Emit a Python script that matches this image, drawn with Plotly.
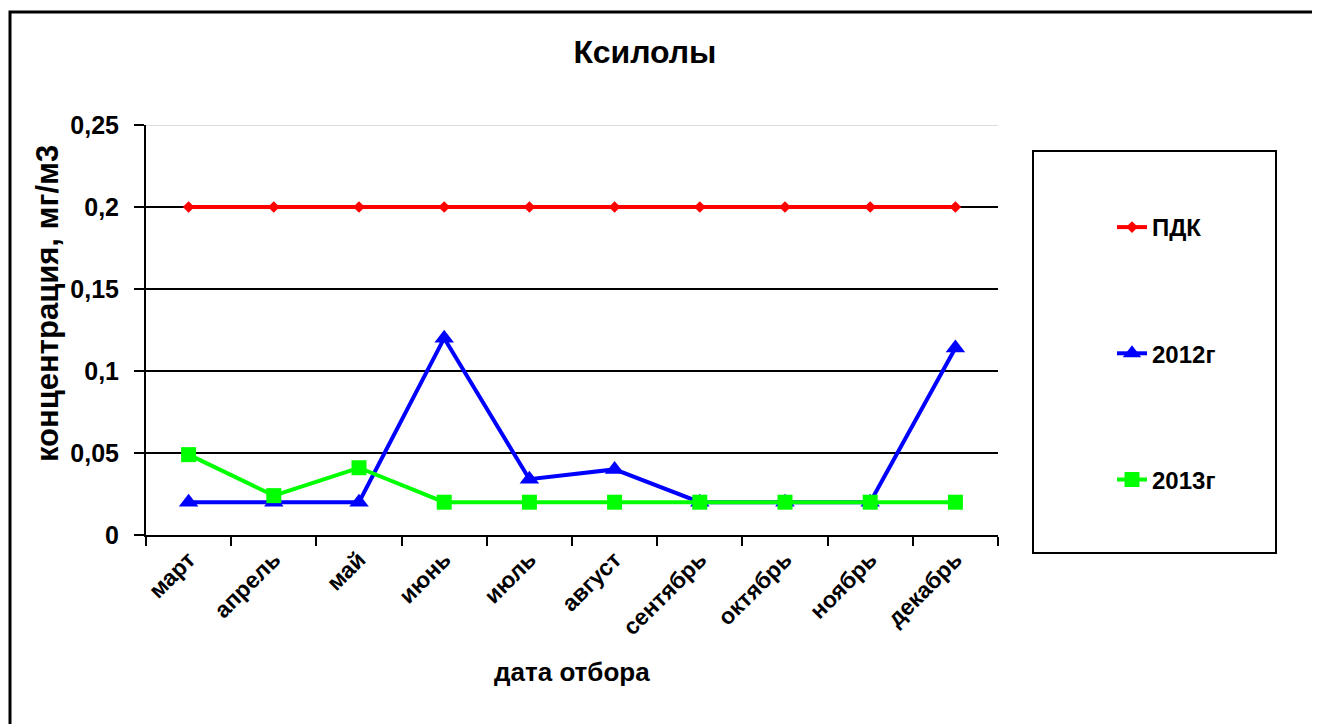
import plotly.graph_objects as go

months = ["март", "апрель", "май", "июнь", "июль", "август", "сентябрь", "октябрь", "ноябрь", "декабрь"]
pdk = [0.2, 0.2, 0.2, 0.2, 0.2, 0.2, 0.2, 0.2, 0.2, 0.2]
y2012 = [0.02, 0.02, 0.02, 0.12, 0.034, 0.04, 0.02, 0.02, 0.02, 0.114]
y2013 = [0.049, 0.024, 0.041, 0.02, 0.02, 0.02, 0.02, 0.02, 0.02, 0.02]
yticks = [0, 0.05, 0.1, 0.15, 0.2, 0.25]

W, H = 1320, 724
OFF = 8  # page body margin
L, R, T, B = 146, 998, 125, 535  # plot area bounds in screen pixels


def px(x):
    return (x - L) / (R - L)


def py(y):
    return (B - y) / (B - T)


FONT = "Arial, Liberation Sans, sans-serif"

fig = go.Figure()
fig.add_trace(go.Scatter(
    x=months, y=pdk, name="ПДК", mode="lines+markers", legendgroup="a",
    line=dict(color="#FF0000", width=4),
    marker=dict(symbol="diamond", size=9, color="#FF0000")))
fig.add_trace(go.Scatter(
    x=months, y=y2012, name="2012г", mode="lines+markers", legendgroup="b",
    line=dict(color="#0000FF", width=4),
    marker=dict(symbol="triangle-up", size=17, color="#0000FF")))
fig.add_trace(go.Scatter(
    x=months, y=y2013, name="2013г", mode="lines+markers", legendgroup="c",
    line=dict(color="#00FF00", width=4),
    marker=dict(symbol="square", size=15, color="#00FF00")))

shapes = [
    # outer chart border
    dict(type="path", xref="paper", yref="paper",
         path=f"M {px(10)},{py(H + 20)} L {px(10)},{py(12)} L {px(W + 20)},{py(12)}",
         line=dict(color="black", width=3)),
    # legend box
    dict(type="rect", xref="paper", yref="paper",
         x0=px(1033), x1=px(1276), y0=py(553), y1=py(151),
         line=dict(color="black", width=2), fillcolor="rgba(0,0,0,0)"),
    # top plot edge (grey)
    dict(type="line", xref="paper", yref="y", x0=0, x1=1, y0=0.25, y1=0.25,
         line=dict(color="white", width=3), layer="between"),
    dict(type="line", xref="paper", yref="y", x0=0, x1=1, y0=0.25, y1=0.25,
         line=dict(color="#BBBBBB", width=1), layer="between"),
]

annotations = [
    dict(text="концентрация, мг/м3", xref="paper", yref="paper",
         x=px(47), y=py(304), textangle=-90, showarrow=False,
         xanchor="center", yanchor="middle",
         font=dict(family=FONT, size=31, color="black", weight="bold")),
    dict(text="дата отбора", xref="paper", yref="paper",
         x=px(572), y=py(672), showarrow=False,
         xanchor="center", yanchor="middle",
         font=dict(family=FONT, size=26, color="black", weight="bold")),
]

fig.update_layout(
    width=W, height=H, autosize=False,
    margin=dict(l=L - OFF, r=W - (R - OFF), t=T - OFF, b=H - (B - OFF), pad=0),
    paper_bgcolor="white", plot_bgcolor="white",
    separators=", ",
    font=dict(family=FONT, color="black", weight="bold"),
    title=dict(text="Ксилолы", x=(645 - OFF) / W, y=1 - (52 - OFF) / H,
               xref="container", yref="container",
               xanchor="center", yanchor="middle",
               font=dict(family=FONT, size=32, color="black", weight="bold")),
    showlegend=True,
    legend=dict(x=px(1112), y=py(205), xanchor="left", yanchor="top",
                bgcolor="rgba(0,0,0,0)", borderwidth=0,
                tracegroupgap=92, traceorder="grouped",
                font=dict(family=FONT, size=24, color="black", weight="bold")),
    shapes=shapes,
    annotations=annotations,
    xaxis=dict(
        type="category", categoryorder="array", categoryarray=months,
        range=[-0.5, len(months) - 0.5],
        showline=True, linecolor="black", linewidth=2,
        ticks="outside", ticklen=9, tickwidth=2, tickcolor="black",
        tickson="boundaries", tickangle=-45,
        tickfont=dict(family=FONT, size=23, color="black", weight="bold"),
        showgrid=False, zeroline=False,
    ),
    yaxis=dict(
        range=[0, 0.25], tickvals=yticks,
        showline=True, linecolor="black", linewidth=2,
        ticks="outside", ticklen=10, tickwidth=2, tickcolor="black",
        ticklabelstandoff=10,
        tickfont=dict(family=FONT, size=25, color="black", weight="bold"),
        showgrid=True, gridcolor="black", gridwidth=2,
        zeroline=False,
    ),
)

fig.write_html("out.html")
